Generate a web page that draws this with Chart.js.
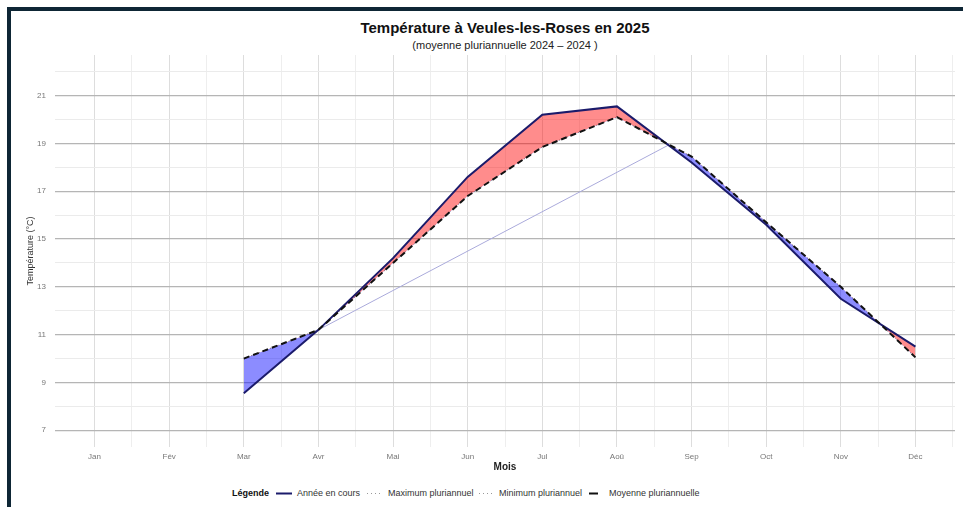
<!DOCTYPE html>
<html>
<head>
<meta charset="utf-8">
<script src="https://cdn.jsdelivr.net/npm/chart.js@4.4.1/dist/chart.umd.min.js"></script>
<style>
  html, body { margin:0; padding:0; background:#fff; width:963px; height:507px; overflow:hidden; font-family:"Liberation Sans", Arial, sans-serif; }
  #frame { position:absolute; left:7px; top:7px; width:956px; height:500px; border-top:4px solid #0e2635; border-left:4px solid #0e2635; box-sizing:border-box; }
  #title { position:absolute; left:55px; width:900px; top:19px; text-align:center; font-weight:bold; font-size:15px; color:#111; line-height:18px; }
  #subtitle { position:absolute; left:55px; width:900px; top:39px; text-align:center; font-size:11px; color:#222; line-height:13px; }
  #wrap { position:absolute; left:12px; top:50px; width:951px; height:423px; }
  .lg { position:absolute; top:487px; font-size:9px; color:#333; line-height:12px; white-space:nowrap; }
  .lgb { font-weight:bold; color:#111; }
  .sw { position:absolute; top:487px; height:12px; }
</style>
</head>
<body>
<div id="frame"></div>
<div id="title">Température à Veules-les-Roses en 2025</div>
<div id="subtitle">(moyenne pluriannuelle 2024 – 2024 )</div>
<div id="wrap"><canvas id="c" width="951" height="423"></canvas></div>

<span class="lg lgb" style="left:232px">Légende</span>
<svg class="sw" style="left:276px" width="16" height="12"><line x1="0" y1="6.5" x2="16" y2="6.5" stroke="#1b1b6b" stroke-width="2"/></svg>
<span class="lg" style="left:297px">Année en cours</span>
<svg class="sw" style="left:367px" width="16" height="12"><line x1="0" y1="6.5" x2="16" y2="6.5" stroke="#999" stroke-width="1" stroke-dasharray="1,3"/></svg>
<span class="lg" style="left:388px">Maximum pluriannuel</span>
<svg class="sw" style="left:479px" width="16" height="12"><line x1="0" y1="6.5" x2="16" y2="6.5" stroke="#999" stroke-width="1" stroke-dasharray="1,3"/></svg>
<span class="lg" style="left:499px">Minimum pluriannuel</span>
<svg class="sw" style="left:589px" width="12" height="12"><line x1="0" y1="6.5" x2="9" y2="6.5" stroke="#111" stroke-width="2"/></svg>
<span class="lg" style="left:609px">Moyenne pluriannuelle</span>

<script>
// ---- data ----
const months = ['Jan','Fév','Mar','Avr','Mai','Jun','Jul','Aoû','Sep','Oct','Nov','Déc'];
const monthIdx = [3, 4, 5, 6, 7, 8, 9, 10, 11, 12];
const anneeEnCours = [8.55, 11.2, 14.2, 17.6, 20.2, 20.55, 18.2, 15.6, 12.5, 10.5];
const moyennePluri = [10.0, 11.2, 14.0, 16.8, 18.85, 20.1, 18.45, 15.7, 13.0, 10.05];
const maximumPluri = [10.0, 11.2, 14.0, 16.8, 18.85, 20.1, 18.45, 15.7, 13.0, 10.05];
const minimumPluri = [10.0, 11.2, 14.0, 16.8, 18.85, 20.1, 18.45, 15.7, 13.0, 10.05];
const crossX = [4, 8.69];
const crossY = [11.2, 18.93];
const yTickValues = [7, 8, 9, 10, 11, 12, 13, 14, 15, 16, 17, 18, 19, 20, 21, 22];

const pts = (xs, ys) => xs.map((x, i) => ({ x: x, y: ys[i] }));
const xTickValues = [];
for (let i = 1; i <= 12; i++) { xTickValues.push(i); xTickValues.push(i + 0.5); }

new Chart(document.getElementById('c'), {
  type: 'line',
  data: {
    datasets: [
      { label: 'Moyenne pluriannuelle', data: pts(monthIdx, moyennePluri), borderColor: '#111', borderWidth: 2, borderDash: [6, 4], pointRadius: 0, fill: false, order: 0 },
      { label: 'Année en cours', data: pts(monthIdx, anneeEnCours), borderColor: '#1b1b6b', borderWidth: 2, pointRadius: 0, order: 1,
        fill: { target: 0, above: 'rgba(255,0,0,0.45)', below: 'rgba(0,0,255,0.45)' } },
      { label: 'Maximum pluriannuel', data: pts(monthIdx, maximumPluri), borderColor: '#999', borderWidth: 1, borderDash: [1, 3], pointRadius: 0, fill: false, order: 2 },
      { label: 'Minimum pluriannuel', data: pts(monthIdx, minimumPluri), borderColor: '#999', borderWidth: 1, borderDash: [1, 3], pointRadius: 0, fill: false, order: 3 },
      { label: 'ribbon', data: pts(crossX, crossY), borderColor: '#aaaadb', borderWidth: 1, pointRadius: 0, fill: false, order: 4 }
    ]
  },
  options: {
    responsive: false,
    animation: false,
    layout: { padding: { left: 0, right: 8, top: 5, bottom: 0 } },
    plugins: { legend: { display: false }, tooltip: { enabled: false } },
    scales: {
      x: {
        type: 'linear', min: 0.47, max: 12.53,
        afterBuildTicks: s => { s.ticks = xTickValues.map(v => ({ value: v })); },
        afterFit: s => { s.height = 26; s.paddingLeft = 0; s.paddingRight = 0; },
        border: { display: false },
        grid: { drawTicks: false, color: c => (c.tick && Number.isInteger(c.tick.value)) ? '#dddddd' : '#eeeeee', lineWidth: 1 },
        ticks: { autoSkip: false, maxRotation: 0, padding: 5, font: { size: 8, family: 'Liberation Sans' }, color: '#777',
          callback: v => Number.isInteger(v) ? months[v - 1] : '' },
        title: { display: true, text: 'Mois', font: { size: 10, weight: 'bold', family: 'Liberation Sans' }, color: '#222', padding: { top: 0, bottom: 0 } }
      },
      y: {
        type: 'linear', min: 6.3, max: 22.7,
        afterBuildTicks: s => { s.ticks = yTickValues.map(v => ({ value: v })); },
        afterFit: s => { s.width = 43; s.paddingTop = 0; s.paddingBottom = 0; },
        border: { display: false },
        grid: { drawTicks: false, color: c => (c.tick && c.tick.value % 2 === 1) ? '#b5b5b5' : '#ebebeb', lineWidth: c => (c.tick && c.tick.value % 2 === 1) ? 1.3 : 1 },
        ticks: { autoSkip: false, padding: 9, font: { size: 8, family: 'Liberation Sans' }, color: '#777',
          callback: v => (v % 2 === 1) ? String(v) : '' },
        title: { display: true, text: 'Température (°C)', font: { size: 9, family: 'Liberation Sans' }, color: '#333', padding: { top: 13, bottom: 0 } }
      }
    }
  }
});
</script>
</body>
</html>
